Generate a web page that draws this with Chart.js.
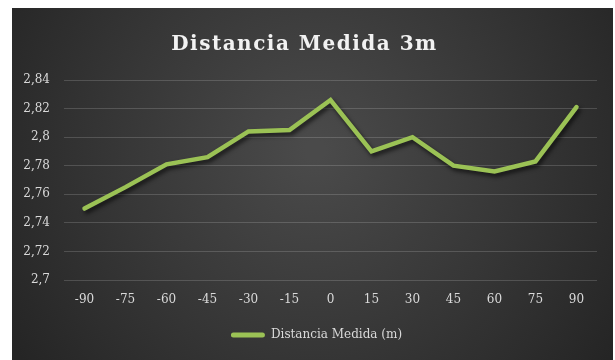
<!DOCTYPE html>
<html>
<head>
<meta charset="utf-8">
<script src="https://cdn.jsdelivr.net/npm/chart.js@4"></script>
<style>
  html, body { margin: 0; padding: 0; background: #ffffff; }
  #wrap { position: absolute; left: 0; top: 0; width: 615px; height: 360px; }
</style>
</head>
<body>
<div id="wrap"><canvas id="c" width="615" height="360"></canvas></div>
<script>
// Measurement angles (degrees) and measured distance (m)
const angles = ['-90', '-75', '-60', '-45', '-30', '-15', '0', '15', '30', '45', '60', '75', '90'];
const distancia = [2.750, 2.765, 2.781, 2.786, 2.804, 2.805, 2.826, 2.790, 2.800, 2.780, 2.776, 2.783, 2.821];
const yTicks = [2.70, 2.72, 2.74, 2.76, 2.78, 2.80, 2.82, 2.84];

const titleText = 'Distancia Medida 3m';
const seriesName = 'Distancia Medida (m)';
const green = '#9bc255';
const tickColor = '#d9d9d9';
const serif = "'DejaVu Serif', 'Liberation Serif', serif";

// Dark panel with a soft radial highlight, inset inside a white frame
const panelBg = {
  id: 'panelBg',
  beforeDraw(chart) {
    const ctx = chart.ctx;
    ctx.save();
    ctx.fillStyle = '#ffffff';
    ctx.fillRect(0, 0, chart.width, chart.height);
    const x0 = 12, y0 = 8, w = chart.width - 14, h = chart.height - 8;
    const g = ctx.createRadialGradient(315, 150, 10, 315, 150, 360);
    g.addColorStop(0, '#4a4a4a');
    g.addColorStop(0.55, '#363636');
    g.addColorStop(1, '#252525');
    ctx.fillStyle = g;
    ctx.fillRect(x0, y0, w, h);
    ctx.restore();
  }
};

// Drop shadow beneath the series line
const lineShadow = {
  id: 'lineShadow',
  beforeDatasetDraw(chart) {
    const ctx = chart.ctx;
    ctx.save();
    ctx.shadowColor = 'rgba(0,0,0,0.65)';
    ctx.shadowBlur = 4;
    ctx.shadowOffsetX = 2;
    ctx.shadowOffsetY = 3;
  },
  afterDatasetDraw(chart) {
    chart.ctx.restore();
  }
};

// Spaced lettering for the title block
const titleSpacing = {
  id: 'titleSpacing',
  afterInit(chart) {
    const tb = chart.titleBlock;
    if (!tb) return;
    const orig = tb.draw.bind(tb);
    tb.draw = function () {
      const ctx = chart.ctx;
      ctx.save();
      ctx.letterSpacing = '1.5px';
      orig();
      ctx.restore();
    };
  }
};

// Centre the legend under the plot area rather than the whole canvas
const legendShift = {
  id: 'legendShift',
  afterLayout(chart) {
    const lg = chart.legend;
    if (!lg) return;
    lg.left += 12;
    lg.right += 12;
  }
};

const fmt = v => String(+Number(v).toFixed(2)).replace('.', ',');

new Chart(document.getElementById('c'), {
  type: 'line',
  data: {
    labels: angles,
    datasets: [{
      label: seriesName,
      data: distancia,
      borderColor: green,
      backgroundColor: green,
      borderWidth: 4.5,
      pointRadius: 0,
      pointHoverRadius: 0,
      tension: 0,
      borderCapStyle: 'round',
      borderJoinStyle: 'miter',
      fill: false
    }]
  },
  options: {
    responsive: false,
    animation: false,
    devicePixelRatio: 1,
    layout: { padding: { left: 12, right: 18, top: 8, bottom: 9 } },
    plugins: {
      title: {
        display: true,
        text: titleText,
        color: '#f2f2f2',
        font: { family: serif, size: 20, weight: 'bold', lineHeight: 1.2 },
        padding: { top: 25, bottom: 23 }
      },
      legend: {
        display: true,
        position: 'bottom',
        labels: {
          color: tickColor,
          font: { family: serif, size: 12 },
          boxWidth: 34,
          boxHeight: 5,
          useBorderRadius: true,
          borderRadius: 2.5,
          padding: 10,
          generateLabels(chart) {
            const ds = chart.data.datasets[0];
            return [{
              text: ds.label,
              fillStyle: green,
              strokeStyle: green,
              lineWidth: 0,
              fontColor: tickColor,
              datasetIndex: 0,
              borderRadius: 2.5
            }];
          }
        }
      },
      tooltip: { enabled: false }
    },
    scales: {
      x: {
        offset: true,
        grid: { display: false, drawTicks: false },
        border: { display: false },
        ticks: {
          color: tickColor,
          font: { family: serif, size: 12 },
          padding: 13,
          maxRotation: 0,
          autoSkip: false
        },
        afterFit(scale) { scale.height = 39; }
      },
      y: {
        min: yTicks[0],
        max: yTicks[yTicks.length - 1],
        afterBuildTicks(scale) { scale.ticks = yTicks.map(v => ({ value: v })); },
        grid: { color: 'rgba(255,255,255,0.16)', lineWidth: 1, drawTicks: false },
        border: { display: false },
        ticks: {
          color: tickColor,
          font: { family: serif, size: 12 },
          padding: 14,
          callback: v => fmt(v)
        },
        afterFit(scale) { scale.width = 52; }
      }
    }
  },
  plugins: [panelBg, lineShadow, titleSpacing, legendShift]
});
</script>
</body>
</html>
